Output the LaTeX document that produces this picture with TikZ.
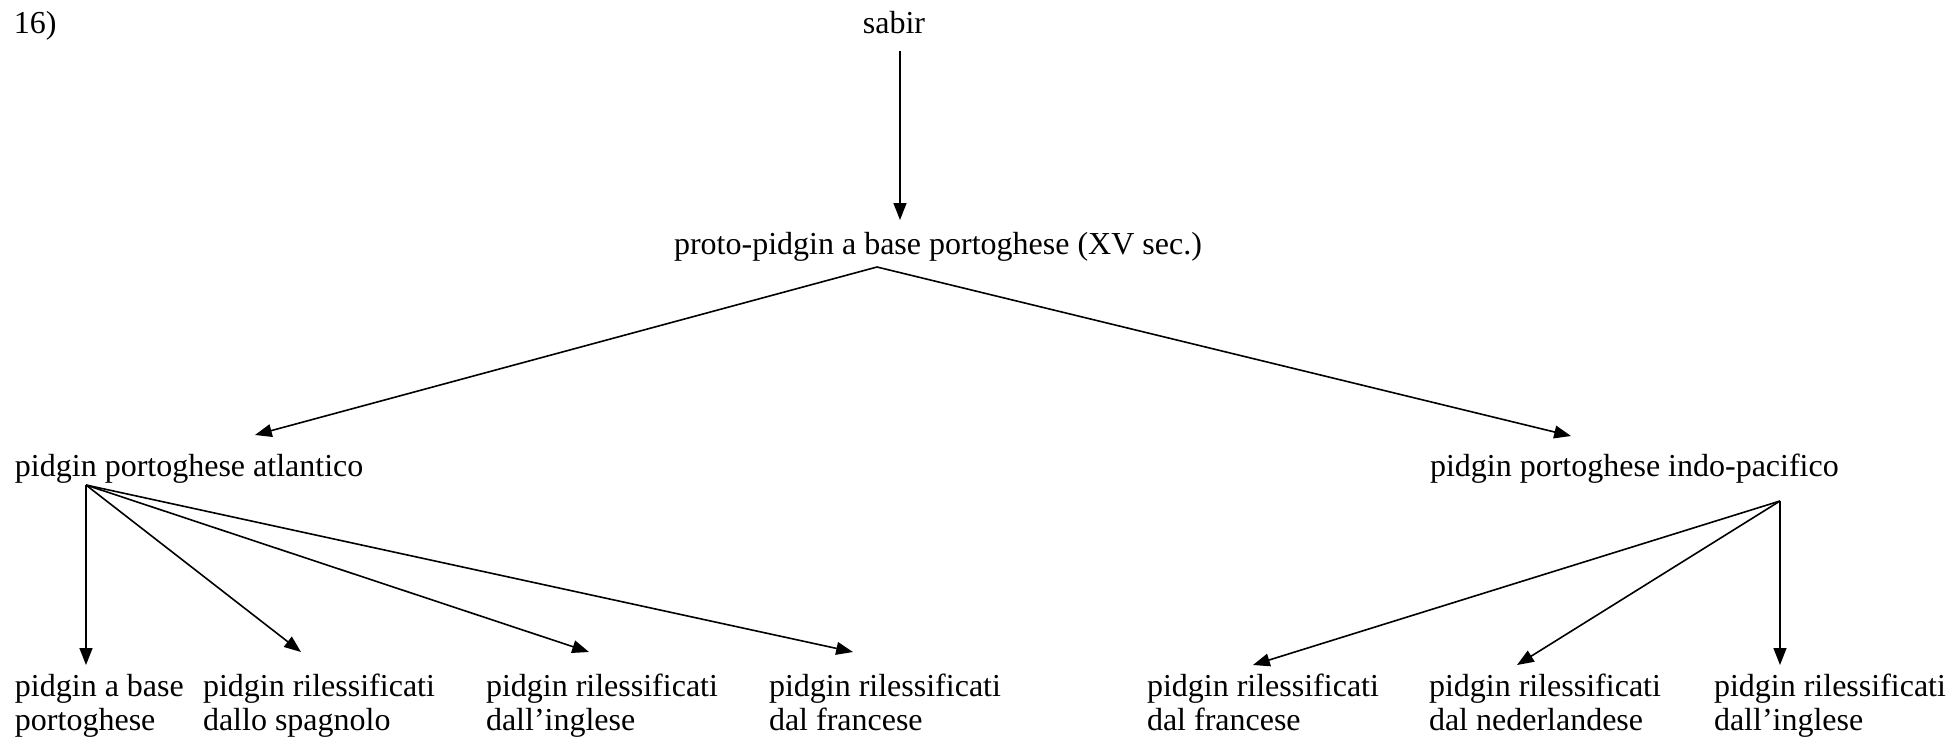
\documentclass[tikz,border=0pt]{standalone}
\usepackage{fontspec}
\setmainfont{Liberation Serif}
\usetikzlibrary{arrows.meta,calc}
\newcommand{\twoline}[2]{\begin{tabular}[t]{@{}l@{}}#1\\#2\end{tabular}}
\begin{document}
\begin{tikzpicture}[x=0.375pt,y=-0.375pt,
  lbl/.style={inner sep=0pt, outer sep=0pt, font=\fontsize{12}{13.1}\selectfont},
  arr/.style={line width=0.6pt, -{Triangle[length=6.3pt,width=4.8pt]}}]
\useasboundingbox (0,0) rectangle (1952,741);
\node[lbl, anchor=base west] (num) at (14,33) {16)};
\node[lbl, anchor=base] (sabir) at (894,33) {sabir};
\node[lbl, anchor=base] (proto) at (938,254) {proto-pidgin a base portoghese (XV sec.)};
\node[lbl, anchor=base west] (atl) at (15,476) {pidgin portoghese atlantico};
\node[lbl, anchor=base west] (indo) at (1430,476) {pidgin portoghese indo-pacifico};
\node[lbl, anchor=base west] (b1) at (15,696) {\twoline{pidgin a base}{portoghese}};
\node[lbl, anchor=base west] (b2) at (203,696) {\twoline{pidgin rilessificati}{dallo spagnolo}};
\node[lbl, anchor=base west] (b3) at (486,696) {\twoline{pidgin rilessificati}{dall’inglese}};
\node[lbl, anchor=base west] (b4) at (769,696) {\twoline{pidgin rilessificati}{dal francese}};
\node[lbl, anchor=base west] (c1) at (1147,696) {\twoline{pidgin rilessificati}{dal francese}};
\node[lbl, anchor=base west] (c2) at (1429,696) {\twoline{pidgin rilessificati}{dal nederlandese}};
\node[lbl, anchor=base west] (c3) at (1714,696) {\twoline{pidgin rilessificati}{dall’inglese}};
% connectors
\draw[arr] ($(sabir.base)+(6,18)$) -- ($(proto.base)+(-38,-34)$);
\draw[arr] ($(proto.base)+(-61,13)$) -- ($(atl.base west)+(240,-41)$);
\draw[arr] ($(proto.base)+(-61,13)$) -- ($(indo.base west)+(141,-40)$);
\draw[arr] ($(atl.base west)+(71,9)$) -- ($(b1.base west)+(71,-31)$);
\draw[arr] ($(atl.base west)+(71,9)$) -- ($(b2.base west)+(98,-44)$);
\draw[arr] ($(atl.base west)+(71,9)$) -- ($(b3.base west)+(103,-44)$);
\draw[arr] ($(atl.base west)+(71,9)$) -- ($(b4.base west)+(84,-44)$);
\draw[arr] ($(indo.base west)+(350,25)$) -- ($(c1.base west)+(106,-31)$);
\draw[arr] ($(indo.base west)+(350,25)$) -- ($(c2.base west)+(88,-31)$);
\draw[arr] ($(indo.base west)+(350,25)$) -- ($(c3.base west)+(66,-31)$);
\end{tikzpicture}
\end{document}
